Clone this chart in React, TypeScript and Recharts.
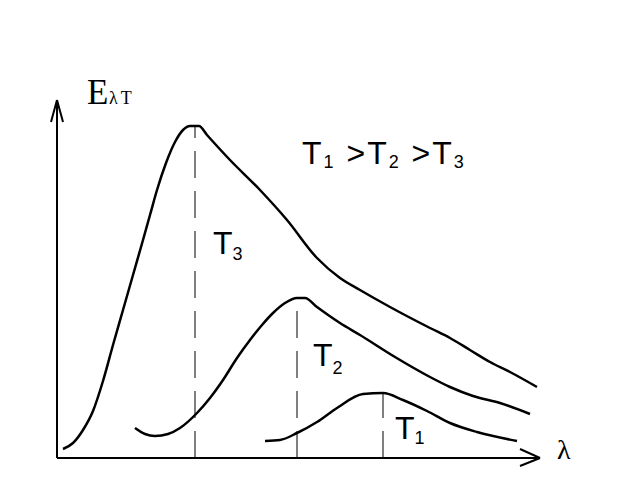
import React from "react";
import { LineChart, Line, XAxis, YAxis, ReferenceLine, Customized } from "recharts";

// Curves of spectral emissivity E(λ,T) — λ in arbitrary units, E in arbitrary units
const T3_CURVE = [
  { x: 6, y: 9 }, { x: 16, y: 15 }, { x: 26, y: 28 }, { x: 36, y: 47 },
  { x: 46, y: 77 }, { x: 56, y: 113 }, { x: 66, y: 148 }, { x: 76, y: 183 },
  { x: 86, y: 218 }, { x: 93, y: 243 }, { x: 100, y: 268 }, { x: 109, y: 295 },
  { x: 118, y: 316 }, { x: 126, y: 328 }, { x: 133, y: 332 }, { x: 142, y: 332 },
  { x: 150, y: 323 }, { x: 173, y: 298 }, { x: 203, y: 268 }, { x: 230, y: 238 },
  { x: 260, y: 200 }, { x: 283, y: 180 }, { x: 303, y: 168 }, { x: 333, y: 151 },
  { x: 373, y: 130 }, { x: 393, y: 120 }, { x: 413, y: 108 }, { x: 433, y: 96 },
  { x: 453, y: 86 }, { x: 480, y: 71 },
];

const T2_CURVE = [
  { x: 78, y: 30 }, { x: 88, y: 24 }, { x: 98, y: 22 }, { x: 111, y: 24 },
  { x: 123, y: 30 }, { x: 140, y: 45 }, { x: 153, y: 60 }, { x: 166, y: 78 },
  { x: 180, y: 100 }, { x: 193, y: 118 }, { x: 205, y: 133 }, { x: 216, y: 145 },
  { x: 228, y: 155 }, { x: 240, y: 160 }, { x: 248, y: 160 }, { x: 260, y: 151 },
  { x: 283, y: 135 }, { x: 303, y: 123 }, { x: 338, y: 101 }, { x: 373, y: 81 },
  { x: 393, y: 71 }, { x: 416, y: 62 }, { x: 443, y: 55 }, { x: 473, y: 44 },
];

const T1_CURVE = [
  { x: 208, y: 17 }, { x: 223, y: 18 }, { x: 240, y: 25 }, { x: 260, y: 36 },
  { x: 280, y: 50 }, { x: 306, y: 64 }, { x: 326, y: 65 }, { x: 346, y: 58 },
  { x: 370, y: 47 }, { x: 393, y: 35 }, { x: 420, y: 26 }, { x: 460, y: 17 },
];

// peak (λmax, Emax) for each temperature
const PEAKS = [
  { x: 138, y: 332 },
  { x: 240, y: 160 },
  { x: 326, y: 65 },
];

const X_MAX = 483;
const Y_MAX = 358;

const INK = "#000";
const SANS = "'Liberation Sans', Arial, sans-serif";
const SERIF = "'Liberation Serif', 'Times New Roman', serif";

function Labels() {
  return (
    <g fill={INK}>
      <text x={87} y={104} fontFamily={SERIF} fontSize={35}>E</text>
      <text x={109} y={104} fontFamily={SERIF} fontSize={18} letterSpacing={3}>λT</text>
      <text x={557} y={459} fontFamily={SERIF} fontSize={28}>λ</text>

      <text x={302} y={164} fontFamily={SANS} fontSize={32} letterSpacing={2}>
        T<tspan fontSize={18} dy={4}>1</tspan>
        <tspan dy={-4}> &gt;T</tspan>
        <tspan fontSize={18} dy={4}>2</tspan>
        <tspan dy={-4}> &gt;T</tspan>
        <tspan fontSize={18} dy={4}>3</tspan>
      </text>

      <text x={213} y={254} fontFamily={SANS} fontSize={32}>
        T<tspan fontSize={18} dy={6}>3</tspan>
      </text>
      <text x={313} y={366} fontFamily={SANS} fontSize={32}>
        T<tspan fontSize={18} dy={8}>2</tspan>
      </text>
      <text x={395} y={439} fontFamily={SANS} fontSize={32}>
        T<tspan fontSize={18} dy={5}>1</tspan>
      </text>
    </g>
  );
}

export default function App() {
  return (
    <div style={{ position: "absolute", left: 0, top: 0, background: "#fff" }}>
      <LineChart
        width={642}
        height={480}
        margin={{ top: 100, right: 102, bottom: 22, left: 57 }}
      >
        <XAxis type="number" dataKey="x" domain={[0, X_MAX]} allowDataOverflow hide />
        <YAxis type="number" dataKey="y" domain={[0, Y_MAX]} allowDataOverflow hide />

        {/* axes with arrow heads */}
        <ReferenceLine segment={[{ x: 0, y: 0 }, { x: 0, y: Y_MAX }]} stroke={INK} strokeWidth={2} ifOverflow="visible" />
        <ReferenceLine segment={[{ x: 0, y: 0 }, { x: X_MAX, y: 0 }]} stroke={INK} strokeWidth={2} ifOverflow="visible" />
        <ReferenceLine segment={[{ x: -6, y: 336 }, { x: 0, y: Y_MAX }]} stroke={INK} strokeWidth={2} ifOverflow="visible" />
        <ReferenceLine segment={[{ x: 6, y: 336 }, { x: 0, y: Y_MAX }]} stroke={INK} strokeWidth={2} ifOverflow="visible" />
        <ReferenceLine segment={[{ x: 463, y: 9 }, { x: X_MAX, y: 0 }]} stroke={INK} strokeWidth={2} ifOverflow="visible" />
        <ReferenceLine segment={[{ x: 463, y: -8 }, { x: X_MAX, y: 0 }]} stroke={INK} strokeWidth={2} ifOverflow="visible" />

        {PEAKS.map((p, i) => (
          <ReferenceLine
            key={`peak-${i}`}
            segment={[{ x: p.x, y: 0 }, { x: p.x, y: p.y }]}
            stroke={INK}
            strokeWidth={1}
            strokeDasharray="27 13"
            ifOverflow="visible"
          />
        ))}

        <Line data={T3_CURVE} dataKey="y" type="monotone" stroke={INK} strokeWidth={2.5} dot={false} isAnimationActive={false} />
        <Line data={T2_CURVE} dataKey="y" type="monotone" stroke={INK} strokeWidth={2.5} dot={false} isAnimationActive={false} />
        <Line data={T1_CURVE} dataKey="y" type="monotone" stroke={INK} strokeWidth={2.5} dot={false} isAnimationActive={false} />

        <Customized component={Labels} />
      </LineChart>
    </div>
  );
}
